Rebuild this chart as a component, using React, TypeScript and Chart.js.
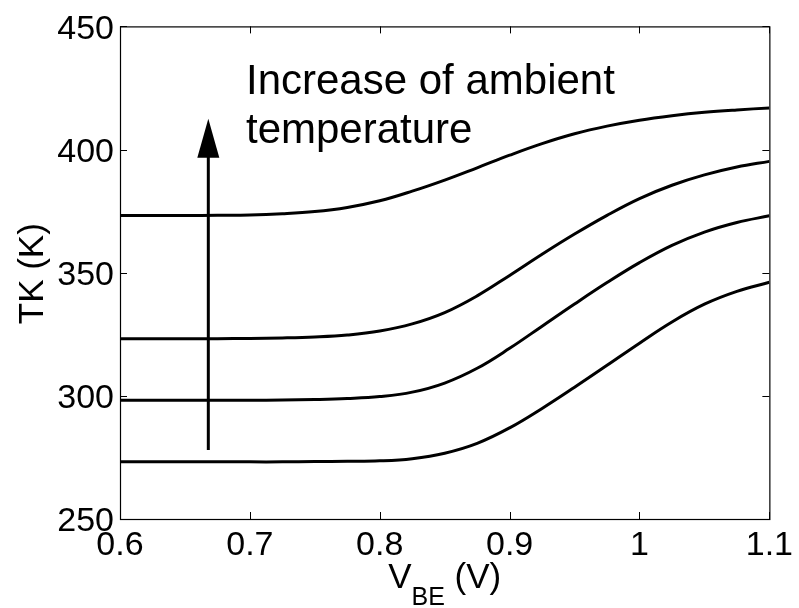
import React, { useEffect, useRef } from "react";
import { Chart, registerables } from "chart.js";

Chart.register(...registerables);

// ---- data ----
const vbe = [0.6, 0.625, 0.65, 0.675, 0.7, 0.725, 0.75, 0.775, 0.8, 0.825, 0.85, 0.875, 0.9, 0.925, 0.95, 0.975, 1.0, 1.025, 1.05, 1.075, 1.1];
const tk373 = [373.2, 373.2, 373.2, 373.3, 373.4, 373.9, 374.8, 376.5, 379.2, 383.1, 387.6, 392.6, 397.7, 402.4, 406.4, 409.5, 411.9, 413.7, 415.1, 416.1, 416.9];
const tk323 = [323.2, 323.2, 323.2, 323.2, 323.3, 323.5, 323.9, 324.7, 326.3, 329.2, 333.8, 340.6, 348.9, 357.5, 365.7, 373.3, 380.1, 385.5, 389.7, 392.9, 395.2];
const tk298 = [298.2, 298.2, 298.2, 298.2, 298.2, 298.3, 298.5, 298.9, 299.7, 301.5, 305.2, 311.2, 319.3, 328.3, 337.3, 346.0, 354.1, 361.1, 366.5, 370.4, 373.1];
const tk273 = [273.2, 273.2, 273.2, 273.2, 273.2, 273.2, 273.3, 273.4, 273.6, 274.5, 276.7, 280.7, 287.0, 294.9, 303.5, 312.4, 321.4, 330.0, 337.2, 342.4, 346.1];
const seriesList = [tk373, tk323, tk298, tk273];

const xTicks = [0.6, 0.7, 0.8, 0.9, 1.0, 1.1];
const yTicks = [250, 300, 350, 400, 450];

const annotationLines = ["Increase of ambient", "temperature"];
const annotationX = 0.697;
const annotationY = 422.5;
const arrowX = 0.668;
const arrowFrom = 278;
const arrowTip = 412.5;

const xTitleMain = "V";
const xTitleSub = "BE";
const xTitleTail = " (V)";
const yTitle = "TK (K)";

const FONT = "'Liberation Sans', Arial, Helvetica, sans-serif";

const decorPlugin = {
  id: "decor",
  afterDatasetsDraw(chart: any) {
    const { ctx, chartArea: a, scales } = chart;
    const xs = scales.x;
    const ys = scales.y;
    ctx.save();
    // box
    ctx.strokeStyle = "#000";
    ctx.lineWidth = 1.2;
    ctx.strokeRect(a.left + 0.5, a.top + 0.5, a.right - a.left, a.bottom - a.top);
    // inner ticks
    const tl = 7;
    ctx.lineWidth = 1;
    ctx.beginPath();
    xTicks.forEach((v) => {
      const px = Math.round(xs.getPixelForValue(v)) + 0.5;
      ctx.moveTo(px, a.bottom);
      ctx.lineTo(px, a.bottom - tl);
      ctx.moveTo(px, a.top);
      ctx.lineTo(px, a.top + tl);
    });
    yTicks.forEach((v) => {
      const py = Math.round(ys.getPixelForValue(v)) + 0.5;
      ctx.moveTo(a.left, py);
      ctx.lineTo(a.left + tl, py);
      ctx.moveTo(a.right, py);
      ctx.lineTo(a.right - tl, py);
    });
    ctx.stroke();

    // arrow
    const ax = xs.getPixelForValue(arrowX);
    const ay0 = ys.getPixelForValue(arrowFrom);
    const ayTip = ys.getPixelForValue(arrowTip);
    const headLen = 39;
    const headHalf = 11;
    ctx.lineWidth = 3;
    ctx.beginPath();
    ctx.moveTo(ax, ay0);
    ctx.lineTo(ax, ayTip + headLen - 1);
    ctx.stroke();
    ctx.fillStyle = "#000";
    ctx.beginPath();
    ctx.moveTo(ax, ayTip);
    ctx.lineTo(ax - headHalf, ayTip + headLen);
    ctx.lineTo(ax + headHalf, ayTip + headLen);
    ctx.closePath();
    ctx.fill();

    // annotation text
    ctx.font = `42px ${FONT}`;
    ctx.textAlign = "left";
    ctx.textBaseline = "alphabetic";
    const tx = xs.getPixelForValue(annotationX);
    const ty = ys.getPixelForValue(annotationY);
    annotationLines.forEach((s, i) => ctx.fillText(s, tx, ty + i * 49));

    // x title with subscript
    const mainFont = `35px ${FONT}`;
    const subFont = `25px ${FONT}`;
    ctx.font = mainFont;
    const wV = ctx.measureText(xTitleMain).width;
    const wTail = ctx.measureText(xTitleTail).width;
    ctx.font = subFont;
    const wSub = ctx.measureText(xTitleSub).width;
    const total = wV + wSub + wTail;
    const cx = (a.left + a.right) / 2;
    let x0 = cx - total / 2;
    const base = 588;
    ctx.font = mainFont;
    ctx.fillText(xTitleMain, x0, base);
    x0 += wV;
    ctx.font = subFont;
    ctx.fillText(xTitleSub, x0, base + 17);
    x0 += wSub;
    ctx.font = mainFont;
    ctx.fillText(xTitleTail, x0, base);

    // y title
    ctx.save();
    ctx.translate(33.5, (a.top + a.bottom) / 2 + 1);
    ctx.rotate(-Math.PI / 2);
    ctx.font = mainFont;
    ctx.textAlign = "center";
    ctx.textBaseline = "middle";
    ctx.fillText(yTitle, 0, 0);
    ctx.restore();

    ctx.restore();
  },
};

export default function App() {
  const ref = useRef<HTMLCanvasElement | null>(null);
  useEffect(() => {
    document.body.style.margin = "0";
    const canvas = ref.current!;
    const chart = new Chart(canvas, {
      type: "line",
      data: {
        datasets: seriesList.map((s) => ({
          data: vbe.map((v, i) => ({ x: v, y: s[i] })),
          borderColor: "#000",
          borderWidth: 3,
          pointRadius: 0,
          tension: 0.4,
          fill: false,
        })),
      },
      options: {
        animation: false,
        responsive: false,
        devicePixelRatio: 1,
        layout: { padding: { left: 0, top: 25, right: 24, bottom: 0 } },
        plugins: { legend: { display: false }, tooltip: { enabled: false }, title: { display: false } },
        scales: {
          x: {
            type: "linear",
            min: 0.6,
            max: 1.1,
            afterFit: (s: any) => { s.height = 89; },
            afterBuildTicks: (s: any) => { s.ticks = xTicks.map((v) => ({ value: v })); },
            grid: { display: false, drawTicks: false },
            border: { display: false },
            ticks: {
              color: "#000",
              font: { family: FONT, size: 34 },
              padding: 6,
              maxRotation: 0,
              autoSkip: false,
              callback: (v: any) => String(Math.round(Number(v) * 10) / 10),
            },
          },
          y: {
            type: "linear",
            min: 250,
            max: 450,
            afterFit: (s: any) => { s.width = 120; },
            afterBuildTicks: (s: any) => { s.ticks = yTicks.map((v) => ({ value: v })); },
            grid: { display: false, drawTicks: false },
            border: { display: false },
            ticks: {
              color: "#000",
              font: { family: FONT, size: 34 },
              padding: 6,
              labelOffset: 3,
              autoSkip: false,
              callback: (v: any) => String(v),
            },
          },
        },
      },
      plugins: [decorPlugin],
    });
    return () => chart.destroy();
  }, []);
  return (
    <div style={{ position: "absolute", left: 0, top: 0, width: 799, height: 608, background: "#fff" }}>
      <canvas ref={ref} width={799} height={608} />
    </div>
  );
}
